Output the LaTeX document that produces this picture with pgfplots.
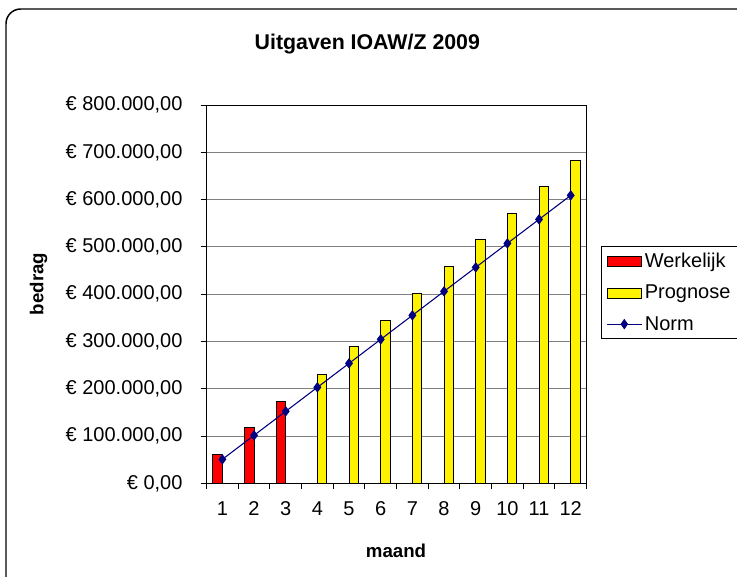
\documentclass[border=0pt]{standalone}
\usepackage{fontspec}
\setmainfont{Liberation Sans}
\usepackage{pgfplots}
\pgfplotsset{compat=1.18}
\definecolor{normblue}{HTML}{000080}
\definecolor{gridgray}{HTML}{808080}

\begin{document}
\begin{tikzpicture}
\useasboundingbox (0,0) rectangle (552.75pt,432pt);
\draw[line width=1.1pt, rounded corners=11pt] (4.5pt,-30pt) rectangle (580pt,425.25pt);
\node[anchor=base west, font=\bfseries\fontsize{16}{19}\selectfont] at (187.5pt,395pt) {Uitgaven IOAW/Z 2009};
\node[rotate=90, font=\bfseries\fontsize{14}{17}\selectfont] at (29pt,219pt) {bedrag};
\node[font=\bfseries\fontsize{14}{17}\selectfont] at (297pt,18.75pt) {maand};

\begin{axis}[
    at={(154.9pt,69.5pt)}, anchor=south west,
    scale only axis,
    width=285pt, height=283.7pt,
    xmin=0.5, xmax=12.5,
    ymin=0, ymax=800000,
    scaled y ticks=false,
    xtick={1,2,3,4,5,6,7,8,9,10,11,12},
    xticklabels={1,2,3,4,5,6,7,8,9,10,11,12},
    minor xtick={0.5,1.5,2.5,3.5,4.5,5.5,6.5,7.5,8.5,9.5,10.5,11.5,12.5},
    major x tick style={draw=none},
    ytick={0,100000,200000,300000,400000,500000,600000,700000,800000},
    yticklabels={{€ 0,00},{€ 100.000,00},{€ 200.000,00},{€ 300.000,00},{€ 400.000,00},{€ 500.000,00},{€ 600.000,00},{€ 700.000,00},{€ 800.000,00}},
    tick align=outside,
    xtick pos=bottom, ytick pos=left,
    major tick length=4.5pt, minor tick length=4.5pt,
    tick style={black, line width=0.75pt},
    ymajorgrids,
    grid style={gridgray, line width=0.75pt},
    axis line style={black, line width=0.75pt},
    tick label style={font=\fontsize{15}{18}\selectfont},
    xticklabel style={anchor=north, text height=11pt, text depth=0pt, yshift=-5pt},
    yticklabel style={xshift=-10pt},
    legend style={at={(1.037,0.627)}, anchor=north west, draw=black, line width=0.75pt,
        font=\fontsize{15}{18}\selectfont, row sep=7.5pt, inner xsep=4pt, inner ysep=3pt},
    legend cell align=left,
]
\addplot[ybar, bar width=0.3, bar shift=-0.15, fill=red, draw=black, line width=0.6pt,
    legend image code/.code={\draw[fill=red,draw=black,line width=0.6pt] (0pt,-3.8pt) rectangle (26pt,3.8pt);}]
    coordinates {(1,62000) (2,119000) (3,173000)};
\addlegendentry{Werkelijk}
\addplot[ybar, bar width=0.3, bar shift=0.15, fill=yellow, draw=black, line width=0.6pt,
    legend image code/.code={\draw[fill=yellow,draw=black,line width=0.6pt] (0pt,-3.8pt) rectangle (26pt,3.8pt);}]
    coordinates {(4,231000) (5,289000) (6,344000) (7,402000) (8,458000) (9,515000) (10,570000) (11,628000) (12,683000)};
\addlegendentry{Prognose}
\addplot[normblue, line width=0.8pt, mark=diamond*, mark size=3.3pt,
    legend image code/.code={\draw[normblue,line width=0.8pt] (0pt,0pt) -- (26pt,0pt); \fill[normblue] (13pt,3.3pt) -- (15.3pt,0pt) -- (13pt,-3.3pt) -- (10.7pt,0pt) -- cycle;}]
    coordinates {(1,50750) (2,101500) (3,152250) (4,203000) (5,253750) (6,304500) (7,355250) (8,406000) (9,456750) (10,507500) (11,558250) (12,609000)};
\addlegendentry{Norm}
\end{axis}
\end{tikzpicture}
\end{document}
